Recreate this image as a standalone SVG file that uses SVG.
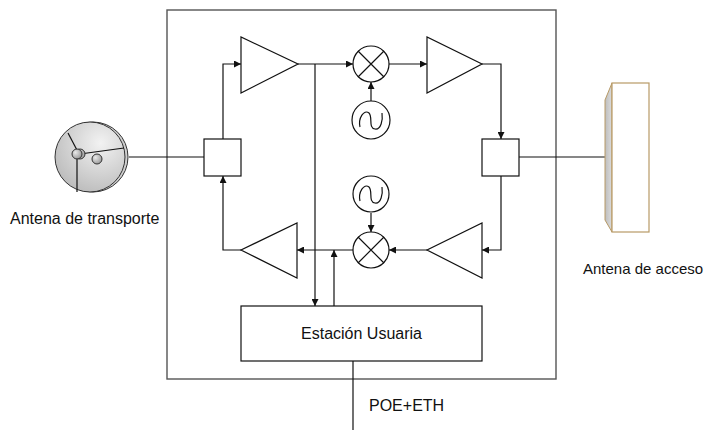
<svg xmlns="http://www.w3.org/2000/svg" width="709" height="430" viewBox="0 0 709 430">
  <style>
    .ln { fill: none; stroke: #111; stroke-width: 1.2; }
    .shape { fill: #fff; stroke: #111; stroke-width: 1.2; }
    .frame { fill: #fff; stroke: #555; stroke-width: 1.4; }
    .lbl { font-family: "Liberation Sans", Arial, sans-serif; font-size: 16px; fill: #111; }
    .arw { marker-end: url(#ah); }
  </style>
  <defs>
    <marker id="ah" viewBox="0 0 8 8" refX="8" refY="4" markerWidth="7" markerHeight="7" markerUnits="userSpaceOnUse" orient="auto">
      <path d="M0,0 L8,4 L0,8 z" fill="#111"/>
    </marker>
    <radialGradient id="dishFill" cx="0.65" cy="0.3" r="0.85">
      <stop offset="0" stop-color="#f2f2f2"/>
      <stop offset="1" stop-color="#b5b5b5"/>
    </radialGradient>
    <radialGradient id="knob" cx="0.35" cy="0.35" r="0.7">
      <stop offset="0" stop-color="#e8e8e8"/>
      <stop offset="1" stop-color="#999"/>
    </radialGradient>
    <linearGradient id="sideFill" x1="0" y1="0" x2="1" y2="0">
      <stop offset="0" stop-color="#bdbdbd"/>
      <stop offset="1" stop-color="#dcdcdc"/>
    </linearGradient>
  </defs>

  <!-- enclosure -->
  <rect id="enclosure" class="frame" x="167" y="10" width="389" height="369"/>

  <!-- connectors -->
  <g id="connectors">
    <!-- external links -->
    <line class="ln" x1="129" y1="157" x2="204" y2="157"/>
    <line class="ln" x1="519" y1="157" x2="605" y2="157"/>
    <line class="ln" x1="353" y1="361" x2="353" y2="430"/>
    <!-- upper chain -->
    <polyline class="ln arw" points="223,139 223,64 241,64"/>
    <line class="ln arw" x1="298" y1="64" x2="353" y2="64"/>
    <line class="ln arw" x1="389" y1="64" x2="427" y2="64"/>
    <polyline class="ln arw" points="482,64 501,64 501,139"/>
    <line class="ln arw" x1="371" y1="101" x2="371" y2="82"/>
    <!-- lower chain -->
    <polyline class="ln arw" points="501,176 501,250 482,250"/>
    <line class="ln arw" x1="427" y1="250" x2="389" y2="250"/>
    <line class="ln arw" x1="353" y1="250" x2="297" y2="250"/>
    <polyline class="ln arw" points="241,250 223,250 223,176"/>
    <line class="ln arw" x1="371" y1="213" x2="371" y2="232"/>
    <!-- station taps -->
    <line class="ln arw" x1="315" y1="64" x2="315" y2="306"/>
    <line class="ln arw" x1="334" y1="306" x2="334" y2="250"/>
  </g>

  <!-- transport dish antenna -->
  <g id="dish">
    <circle cx="93" cy="157" r="35" fill="#cfcfcf" stroke="#333" stroke-width="1"/>
    <circle cx="90" cy="157" r="35" fill="url(#dishFill)" stroke="#333" stroke-width="1"/>
    <line class="ln" x1="68" y1="133" x2="78" y2="152"/>
    <line class="ln" x1="77" y1="156" x2="77" y2="192"/>
    <line class="ln" x1="80" y1="154" x2="124" y2="148"/>
    <circle cx="80" cy="154" r="5" fill="url(#knob)" stroke="#333" stroke-width="1"/>
    <circle cx="77" cy="154" r="5" fill="url(#knob)" stroke="#333" stroke-width="1"/>
    <circle cx="97" cy="159" r="5" fill="url(#knob)" stroke="#333" stroke-width="1"/>
  </g>
  <text class="lbl" x="10" y="224">Antena de transporte</text>

  <!-- access panel antenna -->
  <g id="panel">
    <polygon points="612,83 605,100 605,220 612,232" fill="url(#sideFill)" stroke="#b89a66" stroke-width="1"/>
    <rect x="612" y="83" width="37" height="149" fill="#fff" stroke="#b89a66" stroke-width="1.2"/>
  </g>
  <text class="lbl" x="583" y="274" style="font-size:15px">Antena de acceso</text>

  <!-- couplers -->
  <g id="coupler-left"><rect class="shape" x="204" y="139" width="37" height="37"/></g>
  <g id="coupler-right"><rect class="shape" x="482" y="139" width="37" height="37"/></g>

  <!-- amplifiers -->
  <g id="amp-up-1"><polygon class="shape" points="241,37 241,93 298,64"/></g>
  <g id="amp-up-2"><polygon class="shape" points="427,37 427,93 482,64"/></g>
  <g id="amp-down-1"><polygon class="shape" points="482,223 482,278 427,250"/></g>
  <g id="amp-down-2"><polygon class="shape" points="297,223 297,278 241,250"/></g>

  <!-- mixers -->
  <g id="mixer-up">
    <circle class="shape" cx="371" cy="64" r="18"/>
    <path class="ln" d="M358,51 L384,77 M384,51 L358,77"/>
  </g>
  <g id="mixer-down">
    <circle class="shape" cx="371" cy="250" r="18"/>
    <path class="ln" d="M358,237 L384,263 M384,237 L358,263"/>
  </g>

  <!-- local oscillators -->
  <g id="osc-up">
    <circle class="shape" cx="371" cy="120" r="19"/>
    <path class="ln" d="M360,127 C358,118 364,109 369,113 C373,117 368,128 375,129 C381,130 383,120 382,113"/>
  </g>
  <g id="osc-down">
    <circle class="shape" cx="371" cy="194" r="18"/>
    <path class="ln" d="M360,201 C358,192 364,183 369,187 C373,191 368,202 375,203 C381,204 383,194 382,187"/>
  </g>

  <!-- user station -->
  <g id="station">
    <rect class="shape" x="241" y="306" width="241" height="55"/>
    <text class="lbl" x="361.5" y="339" text-anchor="middle">Estación Usuaria</text>
  </g>
  <text class="lbl" x="369" y="411">POE+ETH</text>
</svg>
